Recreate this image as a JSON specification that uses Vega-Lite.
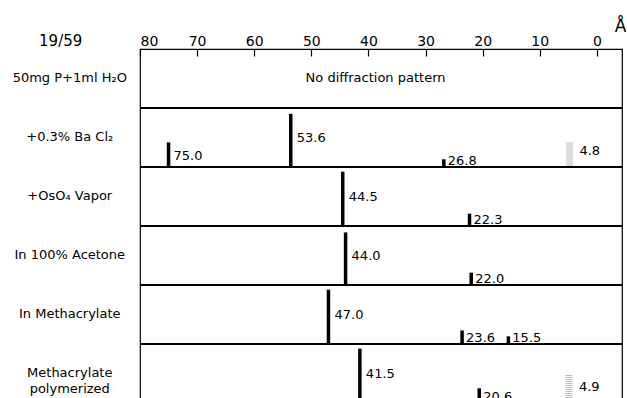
{
  "$schema": "https://vega.github.io/schema/vega-lite/v6.json",
  "padding": {"left": 12, "top": 17, "right": 0, "bottom": 0},
  "title": {"text": "19/59", "anchor": "start", "fontSize": 15, "fontWeight": "normal", "font": "DejaVu Sans", "color": "black", "dx": 27, "offset": -32},
  "data": {"values": [
    {"cond": "50mg P+1ml H₂O", "note": "No diffraction pattern"},
    {"cond": "+0.3% Ba Cl₂", "spacing": 75.0, "intensity": 0.41, "kind": "sharp"},
    {"cond": "+0.3% Ba Cl₂", "spacing": 53.6, "intensity": 0.9, "kind": "sharp"},
    {"cond": "+0.3% Ba Cl₂", "spacing": 26.8, "intensity": 0.12, "kind": "sharp"},
    {"cond": "+0.3% Ba Cl₂", "spacing": 4.8, "intensity": 0.41, "kind": "diffuse"},
    {"cond": "+OsO₄ Vapor", "spacing": 44.5, "intensity": 0.92, "kind": "sharp"},
    {"cond": "+OsO₄ Vapor", "spacing": 22.3, "intensity": 0.2, "kind": "sharp"},
    {"cond": "In 100% Acetone", "spacing": 44.0, "intensity": 0.89, "kind": "sharp"},
    {"cond": "In 100% Acetone", "spacing": 22.0, "intensity": 0.2, "kind": "sharp"},
    {"cond": "In Methacrylate", "spacing": 47.0, "intensity": 0.92, "kind": "sharp"},
    {"cond": "In Methacrylate", "spacing": 23.6, "intensity": 0.22, "kind": "sharp"},
    {"cond": "In Methacrylate", "spacing": 15.5, "intensity": 0.12, "kind": "sharp"},
    {"cond": "Methacrylate\npolymerized", "spacing": 41.5, "intensity": 0.92, "kind": "sharp"},
    {"cond": "Methacrylate\npolymerized", "spacing": 20.6, "intensity": 0.24, "kind": "sharp"},
    {"cond": "Methacrylate\npolymerized", "spacing": 4.9, "intensity": 0.47, "kind": "diffuse"}
  ]},
  "facet": {"row": {
    "field": "cond", "type": "nominal", "title": null,
    "sort": ["50mg P+1ml H₂O", "+0.3% Ba Cl₂", "+OsO₄ Vapor", "In 100% Acetone", "In Methacrylate", "Methacrylate\npolymerized"],
    "header": {"labels": false, "title": null}
  }},
  "spacing": {"row": 0, "column": 0},
  "bounds": "flush",
  "spec": {
    "width": 482,
    "height": 58.3,
    "layer": [
      {"transform": [{"filter": "datum.kind == 'sharp'"}],
       "mark": {"type": "rule", "strokeWidth": 3.5, "color": "black", "strokeCap": "butt"},
       "encoding": {
         "x": {"field": "spacing", "type": "quantitative",
           "scale": {"domain": [80, -4.4], "nice": false, "zero": false},
           "axis": {"orient": "top", "values": [80, 70, 60, 50, 40, 30, 20, 10, 0], "tickSize": -7, "tickWidth": 1.2, "tickColor": "black",
             "labelPadding": 8, "labelFontSize": 14, "labelFont": "DejaVu Sans", "labelColor": "black", "domain": false, "grid": false,
             "title": "Å", "titleFontSize": 17, "titleFontWeight": "normal", "titleFont": "DejaVu Sans", "titleColor": "black",
             "titleAngle": 0, "titleX": 480, "titleY": -23, "titleAlign": "center", "titleBaseline": "middle"}},
         "y": {"field": "intensity", "type": "quantitative", "scale": {"domain": [0, 1]}, "axis": null}, "y2": {"datum": 0}}},
      {"transform": [{"filter": "datum.kind == 'diffuse'"}],
       "mark": {"type": "rule", "strokeWidth": 7, "color": "#bdbdbd", "strokeCap": "butt", "strokeDash": [1, 1]},
       "encoding": {"x": {"field": "spacing", "type": "quantitative"}, "y": {"field": "intensity", "type": "quantitative"}, "y2": {"datum": 0}}},
      {"transform": [{"filter": "datum.intensity >= 0.6"}],
       "mark": {"type": "text", "align": "left", "baseline": "middle", "dx": 6, "fontSize": 13, "font": "DejaVu Sans", "color": "black"},
       "encoding": {"x": {"field": "spacing", "type": "quantitative"}, "y": {"datum": 0.48}, "text": {"field": "spacing", "type": "quantitative", "format": ".1f"}}},
      {"transform": [{"filter": "datum.intensity >= 0.3 && datum.intensity < 0.6 && datum.kind == 'sharp'"}],
       "mark": {"type": "text", "align": "left", "baseline": "middle", "dx": 5, "fontSize": 13, "font": "DejaVu Sans", "color": "black"},
       "encoding": {"x": {"field": "spacing", "type": "quantitative"}, "y": {"datum": 0.17}, "text": {"field": "spacing", "type": "quantitative", "format": ".1f"}}},
      {"transform": [{"filter": "datum.kind == 'diffuse'"}],
       "mark": {"type": "text", "align": "left", "baseline": "middle", "dx": 10, "fontSize": 13, "font": "DejaVu Sans", "color": "black"},
       "encoding": {"x": {"field": "spacing", "type": "quantitative"}, "y": {"datum": 0.26}, "text": {"field": "spacing", "type": "quantitative", "format": ".1f"}}},
      {"transform": [{"filter": "datum.intensity < 0.3"}],
       "mark": {"type": "text", "align": "left", "baseline": "alphabetic", "dx": 4, "dy": -1, "fontSize": 13, "font": "DejaVu Sans", "color": "black"},
       "encoding": {"x": {"field": "spacing", "type": "quantitative"}, "y": {"datum": 0}, "text": {"field": "spacing", "type": "quantitative", "format": ".1f"}}},
      {"transform": [{"filter": "datum.note != null"}],
       "mark": {"type": "text", "align": "left", "baseline": "middle", "fontSize": 13, "font": "DejaVu Sans", "color": "black"},
       "encoding": {"x": {"datum": 51}, "y": {"datum": 0.5}, "text": {"field": "note"}}},
      {"transform": [{"aggregate": [{"op": "count", "as": "n"}], "groupby": ["cond"]}],
       "mark": {"type": "text", "align": "center", "baseline": "middle", "fontSize": 13, "font": "DejaVu Sans", "color": "black", "lineBreak": "\n", "lineHeight": 16},
       "encoding": {"x": {"datum": 92.3}, "y": {"datum": 0.5}, "text": {"field": "cond"}}}
    ]
  },
  "config": {"view": {"stroke": "black", "strokeWidth": 1.2}}
}
